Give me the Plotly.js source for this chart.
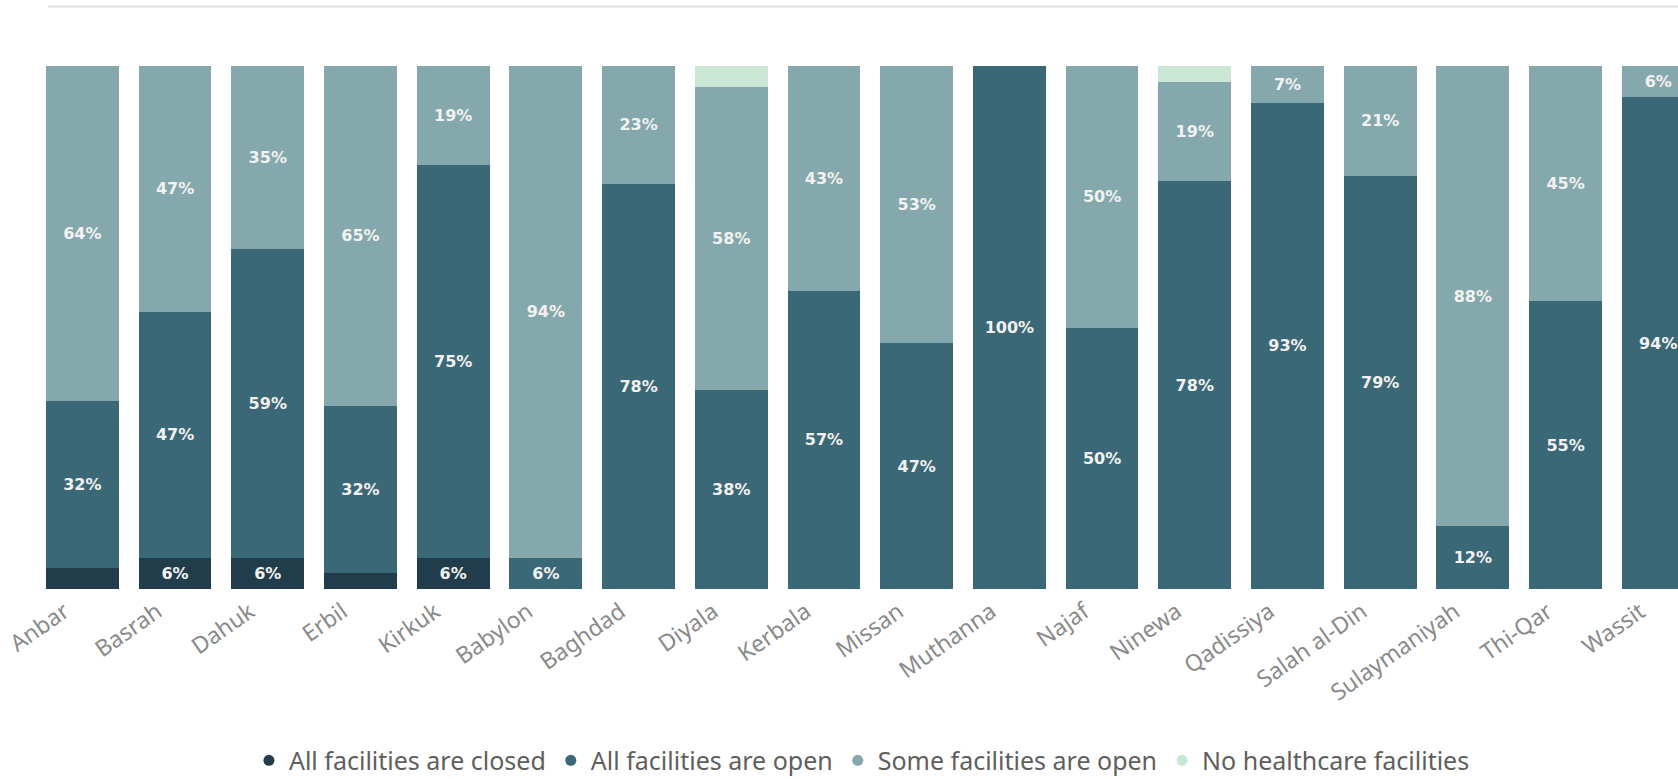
<!DOCTYPE html>
<html>
<head>
<meta charset="utf-8">
<script src="https://cdn.plot.ly/plotly-3.0.1.min.js"></script>
<style>
  html, body { margin: 0; padding: 0; background: #ffffff; }
  #chart { width: 1678px; height: 779px; }
</style>
</head>
<body>
<div id="chart"></div>
<script>
const provinces = ['Anbar','Basrah','Dahuk','Erbil','Kirkuk','Babylon','Baghdad','Diyala','Kerbala','Missan','Muthanna','Najaf','Ninewa','Qadissiya','Salah al-Din','Sulaymaniyah','Thi-Qar','Wassit'];
const seriesNames = ['All facilities are closed','All facilities are open','Some facilities are open','No healthcare facilities'];
const allClosed    = [4, 6, 6, 3, 6, 0, 0,    0,  0,  0,  0,   0,  0,  0,  0,  0,  0,  0];
const allOpen      = [32,47,59,32,75, 6, 77.5, 38, 57, 47, 100, 50, 78, 93, 79, 12, 55, 94];
const someOpen     = [64,47,35,65,19,94, 22.5, 58, 43, 53, 0,   50, 19, 7,  21, 88, 45, 6];
const noFacilities = [0, 0, 0, 0, 0, 0, 0,    4,  0,  0,  0,   0,  3,  0,  0,  0,  0,  0];

const colors = ['#213d4c', '#3b6876', '#84a8ab', '#cae7d6'];
const series = [allClosed, allOpen, someOpen, noFacilities];

function labels(vals) {
  return vals.map(v => v >= 5 ? Math.round(v) + '%' : '');
}

const traces = [];
series.forEach((vals, i) => {
  traces.push({
    type: 'bar',
    x: provinces,
    y: vals,
    name: seriesNames[i],
    marker: { color: colors[i] },
    text: labels(vals),
    textposition: 'inside',
    insidetextanchor: 'middle',
    textangle: 0,
    textfont: { family: 'DejaVu Sans', size: 16, color: '#f2f2f2', weight: 'bold' },
    hoverinfo: 'x+y+name',
    showlegend: false
  });
});
// legend entries with round markers
seriesNames.forEach((n, i) => {
  traces.push({
    type: 'scatter',
    mode: 'markers',
    x: [null], y: [null],
    name: n,
    marker: { color: colors[i], size: 11, symbol: 'circle' },
    showlegend: true,
    hoverinfo: 'skip'
  });
});

const layout = {
  width: 1678,
  height: 779,
  paper_bgcolor: '#ffffff',
  plot_bgcolor: '#ffffff',
  barmode: 'stack',
  bargap: 0.215,
  margin: { l: 36, r: 0, t: 66, b: 190, autoexpand: false },
  xaxis: {
    type: 'category',
    range: [-0.5, 17.213],
    automargin: false,
    tickangle: -35,
    tickfont: { family: 'Noto Sans', size: 23, color: '#8a8a8a' },
    ticklabelstandoff: 4,
    ticklabelshift: -18,
    showgrid: false,
    zeroline: false,
    showline: false,
    ticks: '',
    fixedrange: true
  },
  yaxis: {
    range: [0, 100],
    visible: false,
    automargin: false,
    fixedrange: true
  },
  showlegend: true,
  legend: {
    orientation: 'h',
    x: 0.503,
    xanchor: 'center',
    y: -0.372,
    yanchor: 'bottom',
    font: { family: 'Noto Sans', size: 25, color: '#605e5c' },
    itemwidth: 30,
    traceorder: 'normal'
  },
  shapes: [{
    type: 'line', xref: 'paper', yref: 'paper',
    x0: 0.0073, x1: 1.0, y0: 1.114, y1: 1.114,
    line: { color: '#dcdcdc', width: 2 }
  }]
};

Plotly.newPlot('chart', traces, layout, { displayModeBar: false, staticPlot: true });
</script>
</body>
</html>
